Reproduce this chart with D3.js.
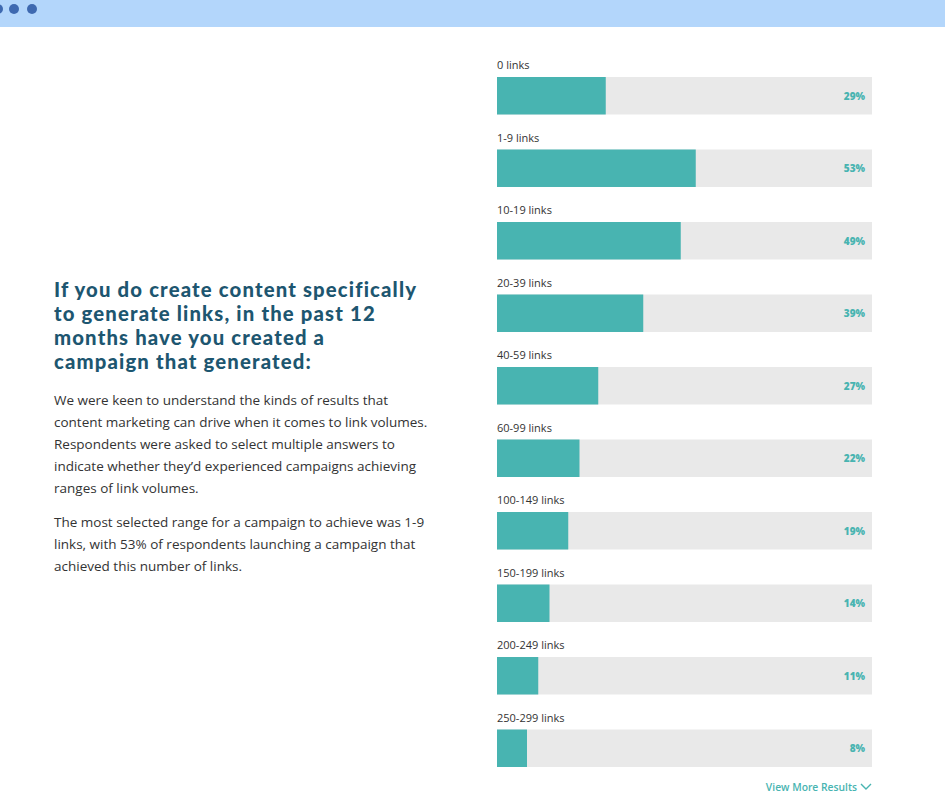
<!DOCTYPE html>
<html><head><meta charset="utf-8">
<script src="https://cdn.jsdelivr.net/npm/d3@7"></script>
<style>
body{margin:0;background:#fff;}
svg{display:block;}
</style></head>
<body>
<script>
const categories = ["0 links","1-9 links","10-19 links","20-39 links","40-59 links","60-99 links","100-149 links","150-199 links","200-249 links","250-299 links"];
const values = [29,53,49,39,27,22,19,14,11,8];
const titleLines = ["If you do create content specifically","to generate links, in the past 12","months have you created a","campaign that generated:"];
const para1 = ["We were keen to understand the kinds of results that","content marketing can drive when it comes to link volumes.","Respondents were asked to select multiple answers to","indicate whether they\u2019d experienced campaigns achieving","ranges of link volumes."];
const para2 = ["The most selected range for a campaign to achieve was 1-9","links, with 53% of respondents launching a campaign that","achieved this number of links."];

const W=945,H=808;
const svg=d3.select("body").append("svg").attr("width",W).attr("height",H);
svg.append("rect").attr("width",W).attr("height",27).attr("fill","#b3d6fb");
[-2,14,32].forEach(cx=>svg.append("circle").attr("cx",cx).attr("cy",9).attr("r",5).attr("fill","#3e69b0"));

const font="'Open Sans', Lato, sans-serif";
const tg=svg.append("g");
titleLines.forEach((t,i)=>tg.append("text").attr("x",54).attr("y",297+i*24).text(t)
  .attr("font-family","Lato, sans-serif").attr("font-weight",900).attr("font-size",20.3)
  .attr("letter-spacing",1.15).attr("fill","#1d5670"));
para1.forEach((t,i)=>tg.append("text").attr("x",54).attr("y",405+i*22).text(t)
  .attr("font-family",font).attr("font-size",13.5).attr("fill","#333"));
para2.forEach((t,i)=>tg.append("text").attr("x",54).attr("y",527+i*22).text(t)
  .attr("font-family",font).attr("font-size",13.5).attr("fill","#333"));

const x=d3.scaleLinear().domain([0,100]).range([497,872]);
const y=d3.scaleBand().domain(categories).range([77,767]).paddingInner(0.483).paddingOuter(0);
const bw=y.bandwidth();
const g=svg.append("g");
const row=g.selectAll("g.row").data(categories).join("g").attr("class","row");
row.append("text").attr("x",497).attr("y",d=>y(d)-8).text(d=>d)
  .attr("font-family",font).attr("font-size",11).attr("fill","#333");
row.append("rect").attr("x",x(0)).attr("y",d=>y(d)).attr("width",x(100)-x(0)).attr("height",bw).attr("fill","#e9e9e9");
row.append("rect").attr("x",x(0)).attr("y",d=>y(d)).attr("width",(d,i)=>x(values[i])-x(0)).attr("height",bw).attr("fill","#48b4b1");
row.append("text").attr("x",865).attr("y",d=>y(d)+bw/2+4).attr("text-anchor","end").text((d,i)=>values[i]+"%")
  .attr("font-family",font).attr("font-weight",800).attr("font-size",10).attr("fill","#48b4b1");

svg.append("text").attr("x",857).attr("y",791).attr("text-anchor","end").text("View More Results")
  .attr("font-family",font).attr("font-weight",600).attr("font-size",10.3).attr("fill","#48b4b1");
svg.append("path").attr("d","M861,784 L866,789 L871,784").attr("fill","none").attr("stroke","#48b4b1").attr("stroke-width",1.4);
</script>
</body></html>
